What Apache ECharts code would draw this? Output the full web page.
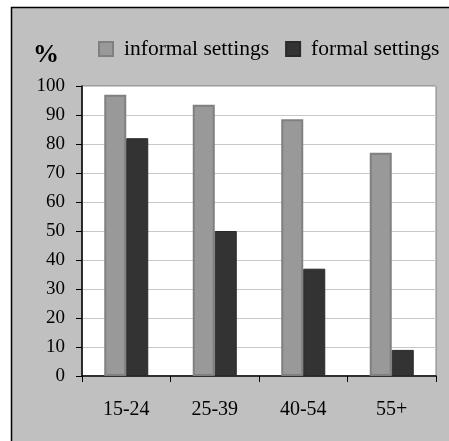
<!DOCTYPE html>
<html>
<head>
<meta charset="utf-8">
<script src="https://cdn.jsdelivr.net/npm/echarts@6/dist/echarts.min.js"></script>
<style>html,body{margin:0;padding:0;background:#fff}#c{width:449px;height:441px}</style>
</head>
<body>
<div id="c"></div>
<script>
var categories = ['15-24', '25-39', '40-54', '55+'];
var informal = [97, 93.5, 88.5, 77];
var formal = [82, 50, 37, 9];
var yTicks = [0, 10, 20, 30, 40, 50, 60, 70, 80, 90, 100];

var chart = echarts.init(document.getElementById('c'));
var font = '"Liberation Serif", "Times New Roman", serif';
chart.setOption({
  animation: false,
  backgroundColor: '#ffffff',
  graphic: [
    { type: 'rect', z: -10, shape: { x: 11.5, y: 7.5, width: 480, height: 480 },
      style: { fill: '#c0c0c0', stroke: '#000', lineWidth: 1.5 } },
    { type: 'text', x: 33, y: 55.5, style: { text: '%', fontSize: 26, fontWeight: 'bold', fontFamily: font, fill: '#000', verticalAlign: 'middle' } }
  ],
  legend: {
    left: 93, top: 33, itemWidth: 14, itemHeight: 14, itemGap: 16, icon: 'rect',
    textStyle: { fontFamily: font, fontSize: 21.5, color: '#000', padding: [0, 0, 0, 6] },
    data: ['informal settings', 'formal settings']
  },
  grid: { left: 82, right: 13, top: 86, bottom: 65, show: true, backgroundColor: '#fff', borderColor: '#808080', borderWidth: 1 },
  xAxis: {
    type: 'category', data: categories,
    axisLine: { lineStyle: { color: '#000', width: 1.5 } },
    axisTick: { show: true, length: 6, lineStyle: { color: '#000' } },
    axisLabel: { fontFamily: font, fontSize: 20, color: '#000', margin: 24 }
  },
  yAxis: {
    type: 'value', min: 0, max: 100, interval: 10,
    axisLine: { show: true, lineStyle: { color: '#000', width: 1.5 } },
    axisTick: { show: true, length: 6, lineStyle: { color: '#000' } },
    axisLabel: { fontFamily: font, fontSize: 19, color: '#000', margin: 17,
      formatter: function (v) { return yTicks.indexOf(v) >= 0 ? String(v) : ''; } },
    splitLine: { lineStyle: { color: '#c8c8c8', width: 1 } }
  },
  series: [
    { name: 'informal settings', type: 'bar', data: informal, barWidth: 22, barGap: '0%',
      itemStyle: { color: '#999999', borderColor: '#808080', borderWidth: 2 } },
    { name: 'formal settings', type: 'bar', data: formal, barWidth: 22,
      itemStyle: { color: '#333333', borderColor: '#2a2a2a', borderWidth: 1 } }
  ]
});
</script>
</body>
</html>
